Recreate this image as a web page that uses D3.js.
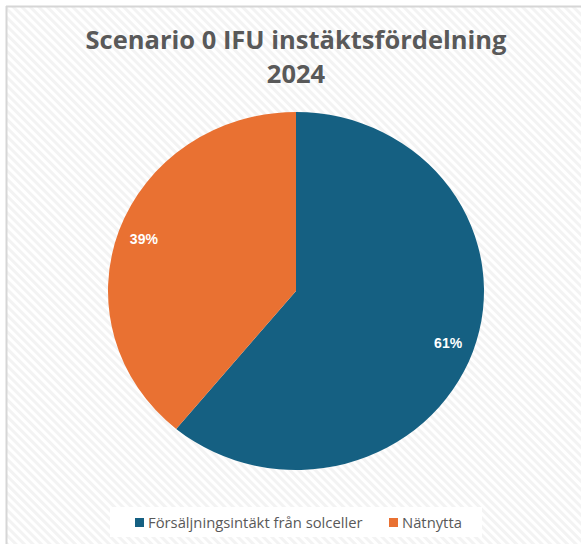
<!DOCTYPE html>
<html><head><meta charset="utf-8">
<script src="https://cdn.jsdelivr.net/npm/d3@7"></script>
<style>html,body{margin:0;padding:0;background:#fff;}svg{display:block;}</style>
</head><body>
<script>
const categories = ["Försäljningsintäkt från solceller", "Nätnytta"];
const values = [61, 39];
const colors = ["#156082", "#E97132"];
const titleLines = ["Scenario 0 IFU instäktsfördelning", "2024"];

const W = 581, H = 544;
const svg = d3.select("body").append("svg").attr("width", W).attr("height", H);
const defs = svg.append("defs");
const pat = defs.append("pattern").attr("id", "stripes").attr("patternUnits", "userSpaceOnUse")
  .attr("width", 6).attr("height", 6).attr("patternTransform", "rotate(45)");
pat.append("rect").attr("width", 6).attr("height", 6).attr("fill", "#ffffff");
pat.append("rect").attr("width", 6).attr("height", 3).attr("fill", "#f3f3f3");

svg.append("rect").attr("x", 6).attr("y", 6).attr("width", W - 6).attr("height", H - 6).attr("fill", "url(#stripes)");
svg.append("line").attr("x1", 6).attr("y1", 6.5).attr("x2", W).attr("y2", 6.5).attr("stroke", "#d6d6d6").attr("stroke-width", 2);
svg.append("line").attr("x1", 6.5).attr("y1", 6).attr("x2", 6.5).attr("y2", H).attr("stroke", "#d6d6d6").attr("stroke-width", 2);

svg.append("g").selectAll("text").data(titleLines).join("text")
  .attr("x", 296).attr("y", (d, i) => 49 + i * 34)
  .attr("text-anchor", "middle")
  .attr("font-family", "Open Sans, sans-serif").attr("font-weight", 700).attr("font-size", 25.5)
  .attr("fill", "#595959").text(d => d);

const cx = 296, cy = 291, rx = 188, ry = 179;
const pie = d3.pie().sort(null).value(d => d)(values);
const arc = d3.arc().innerRadius(0).outerRadius(ry);
const g = svg.append("g").attr("transform", `translate(${cx},${cy}) scale(${rx / ry},1)`);
g.selectAll("path").data(pie).join("path").attr("d", arc).attr("fill", (d, i) => colors[i]);

const total = d3.sum(values);
const labelArc = d3.arc().innerRadius(ry * 0.86).outerRadius(ry * 0.86);
svg.append("g").selectAll("text").data(pie).join("text")
  .attr("transform", d => { const c = labelArc.centroid(d); return `translate(${cx + c[0] * rx / ry},${cy + c[1]})`; })
  .attr("text-anchor", "middle").attr("dy", "0.35em")
  .attr("font-family", "Liberation Sans, Arial, sans-serif").attr("font-weight", 700).attr("font-size", 14)
  .attr("fill", "#ffffff").text(d => Math.round(d.data / total * 100) + "%");

// legend
svg.append("rect").attr("x", 110).attr("y", 507).attr("width", 372).attr("height", 30).attr("fill", "#ffffff");
const legX = [135, 389];
const lg = svg.append("g");
categories.forEach((c, i) => {
  lg.append("rect").attr("x", legX[i]).attr("y", 518).attr("width", 9).attr("height", 9).attr("fill", colors[i]);
  lg.append("text").attr("x", legX[i] + 13).attr("y", 527.5).attr("font-family", "Open Sans, sans-serif")
    .attr("font-size", 14.8).attr("fill", "#595959").text(c);
});
</script>
</body></html>
